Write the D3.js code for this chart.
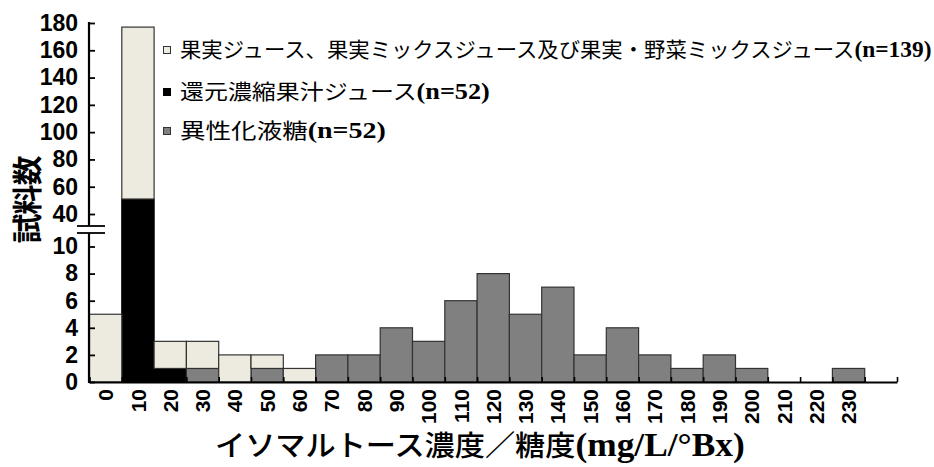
<!DOCTYPE html>
<html>
<head>
<meta charset="utf-8">
<script src="https://cdn.jsdelivr.net/npm/d3@7"></script>
<style>
  body { margin: 0; background: #fff; }
  svg { display: block; }
</style>
</head>
<body>
<svg id="chart" width="934" height="467"></svg>
<script>
// Histogram bins (lower edge of each 10 mg/L/°Bx class)
const binLabels = ["0","10","20","30","40","50","60","70","80","90","100","110",
                   "120","130","140","150","160","170","180","190","200","210","220","230"];
const binStarts = [0,10,20,30,40,50,60,70,80,90,100,110,120,130,140,150,160,170,180,190,200,210,220,230];

// Sample counts per bin
const juiceCounts       = [5,126,2,2,2,1,1,0,0,0,0,0,0,0,0,0,0,0,0,0,0,0,0,0];
const concentrateCounts = [0,51,1,0,0,0,0,0,0,0,0,0,0,0,0,0,0,0,0,0,0,0,0,0];
const hfcsCounts        = [0,0,0,1,0,1,0,2,2,4,3,6,8,5,7,2,4,2,1,2,1,0,0,1];

// Broken y axis tick values
const yTicksLow  = [0,2,4,6,8,10];
const yTicksHigh = [40,60,80,100,120,140,160,180];

// Legend entries
const legendNames = ["果実ジュース、果実ミックスジュース及び果実・野菜ミックスジュース",
                     "還元濃縮果汁ジュース", "異性化液糖"];
const legendN     = ["(n=139)", "(n=52)", "(n=52)"];
const legendKeys  = ["juice", "concentrate", "hfcs"];

const xTitleJa = "イソマルトース濃度／糖度";
const xTitleUnit = "(mg/L/°Bx)";
const yTitle = "試料数";

const colors = { juice: "#edebe0", concentrate: "#000000", hfcs: "#808080" };
const strokes = { juice: "#333", concentrate: "#000", hfcs: "#333" };

const svg = d3.select("#chart");

// scales
const x = d3.scaleLinear().domain([0, 250]).range([89.5, 897]);
const yLow  = d3.scaleLinear().domain([0, 10]).range([382, 246.5]);
const yHigh = d3.scaleLinear().domain([40, 180]).range([214, 23]);
const y = v => (v <= 10 ? yLow(v) : yHigh(v));

// stacked data
const rows = binStarts.map((s, i) => ({
  start: s, juice: juiceCounts[i], concentrate: concentrateCounts[i], hfcs: hfcsCounts[i]
}));
const stack = d3.stack().keys(["concentrate", "hfcs", "juice"]);
const series = stack(rows);

const barG = svg.append("g");
series.forEach(s => {
  barG.selectAll(null)
    .data(s.filter(d => d[1] > d[0]))
    .join("rect")
    .attr("x", d => x(d.data.start))
    .attr("width", d => x(d.data.start + 10) - x(d.data.start))
    .attr("y", d => y(d[1]))
    .attr("height", d => y(d[0]) - y(d[1]))
    .attr("fill", colors[s.key])
    .attr("stroke", strokes[s.key])
    .attr("stroke-width", 1.2);
});

// x axis: bin edge ticks pointing up
const xAxisG = svg.append("g")
  .attr("transform", "translate(0,382)")
  .call(d3.axisBottom(x).tickValues(d3.range(0, 251, 10)).tickSize(-5).tickSizeOuter(0).tickFormat(""));
xAxisG.select(".domain").attr("stroke", "#000").attr("stroke-width", 2.2);
xAxisG.selectAll(".tick line").attr("stroke", "#000").attr("stroke-width", 1.6);

// x tick labels at bin centres, rotated
svg.append("g").selectAll("text")
  .data(binStarts)
  .join("text")
  .attr("transform", (d) => `translate(${x(d + 5)},389) rotate(-90)`)
  .attr("dy", "0.36em")
  .attr("text-anchor", "end")
  .attr("font-family", "'Liberation Sans', Arial, sans-serif")
  .attr("font-weight", "bold")
  .attr("font-size", 21)
  .text((d, i) => binLabels[i]);

// y axes (two segments)
function styleY(g) {
  g.select(".domain").remove();
  g.selectAll(".tick line").attr("stroke", "#000").attr("stroke-width", 1.8);
  g.selectAll(".tick text")
    .attr("font-family", "'Liberation Sans', Arial, sans-serif")
    .attr("font-weight", "bold")
    .attr("font-size", 23)
    .attr("fill", "#000");
}
svg.append("g").attr("transform", "translate(89,0)")
  .call(d3.axisLeft(yLow).tickValues(yTicksLow).tickSize(-6).tickPadding(11))
  .call(styleY);
svg.append("g").attr("transform", "translate(89,0)")
  .call(d3.axisLeft(yHigh).tickValues(yTicksHigh).tickSize(-6).tickPadding(11))
  .call(styleY);

const axisLine = d3.line();
svg.append("path").attr("d", axisLine([[89, 383], [89, 233]]))
  .attr("stroke", "#000").attr("stroke-width", 2.2).attr("fill", "none");
svg.append("path").attr("d", axisLine([[89, 226], [89, 22]]))
  .attr("stroke", "#000").attr("stroke-width", 2.2).attr("fill", "none");
// axis break marks
[226, 233].forEach(yy => {
  svg.append("path").attr("d", axisLine([[77, yy], [105, yy]]))
    .attr("stroke", "#000").attr("stroke-width", 1.8);
});

// stretch text horizontally to a given width
function fitWidth(sel, x0, width) {
  const w = sel.node().getComputedTextLength();
  sel.attr("transform", `translate(${x0},0) scale(${width / w},1) translate(${-x0},0)`);
}

// y title
svg.append("text")
  .attr("transform", "translate(38,200) rotate(-90)")
  .attr("text-anchor", "middle")
  .attr("font-family", "'Noto Sans CJK JP', sans-serif")
  .attr("font-weight", "bold")
  .attr("font-size", 30)
  .attr("letter-spacing", -1)
  .text(yTitle);

// x title
const xt = svg.append("text")
  .attr("x", 215).attr("y", 456)
  .attr("fill", "#000");
xt.append("tspan")
  .attr("font-family", "'Noto Sans CJK JP', sans-serif")
  .attr("font-weight", 500)
  .attr("font-size", 29)
  .text(xTitleJa);
xt.append("tspan")
  .attr("font-family", "'Liberation Serif', 'Times New Roman', serif")
  .attr("font-weight", "bold")
  .attr("font-size", 34)
  .text(xTitleUnit);
fitWidth(xt, 215, 530);

// legend
const legendY = [50, 92, 131];
const legendEnd = [932, 490, 386];
legendKeys.forEach((k, i) => {
  svg.append("rect")
    .attr("x", 163.5).attr("y", legendY[i] - 3.5)
    .attr("width", 7).attr("height", 7)
    .attr("fill", colors[k]).attr("stroke", strokes[k]).attr("stroke-width", 1);
  const t = svg.append("text").attr("x", 180).attr("y", legendY[i] + 7.5).attr("fill", "#000");
  t.append("tspan")
    .attr("font-family", "'Noto Sans CJK JP', sans-serif")
    .attr("font-size", 21)
    .text(legendNames[i]);
  t.append("tspan")
    .attr("font-family", "'Liberation Serif', 'Times New Roman', serif")
    .attr("font-weight", "bold")
    .attr("font-size", 23)
    .text(legendN[i]);
  fitWidth(t, 180, legendEnd[i] - 180);
});
</script>
</body>
</html>
